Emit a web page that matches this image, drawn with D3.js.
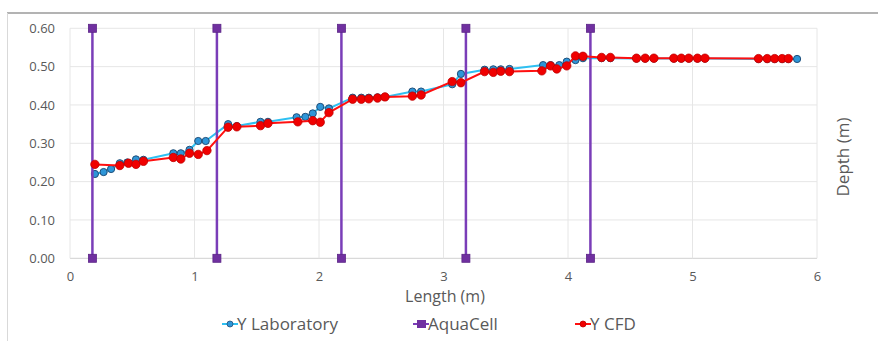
<!DOCTYPE html>
<html>
<head>
<meta charset="utf-8">
<script src="https://cdn.jsdelivr.net/npm/d3@7"></script>
<style>
  body { margin: 0; background: #fff; }
  text { font-family: "Open Sans", sans-serif; fill: #595959; }
</style>
</head>
<body>
<script>
// series values
let labX = [0.20, 0.27, 0.33, 0.40, 0.46, 0.53, 0.59, 0.83, 0.89, 0.96, 1.03, 1.09,
    1.27, 1.34, 1.53, 1.59, 1.82, 1.89, 1.95, 2.01, 2.08, 2.27, 2.34, 2.40, 2.47, 2.53,
    2.75, 2.82, 3.07, 3.14, 3.33, 3.40, 3.46, 3.53, 3.80, 3.86, 3.93, 3.99, 4.06, 4.12,
    4.27, 4.34, 4.55, 4.62, 4.69, 4.85, 4.91, 4.97, 5.04, 5.10, 5.53, 5.60, 5.66, 5.72, 5.77, 5.84]
let labY = [0.220, 0.225, 0.233, 0.248, 0.250, 0.258, 0.257, 0.274, 0.274, 0.283, 0.306, 0.306,
    0.350, 0.345, 0.356, 0.356, 0.368, 0.369, 0.378, 0.395, 0.391, 0.419, 0.419, 0.419, 0.420, 0.421,
    0.435, 0.435, 0.454, 0.481, 0.492, 0.493, 0.493, 0.494, 0.504, 0.504, 0.504, 0.513, 0.517, 0.522,
    0.522, 0.522, 0.521, 0.521, 0.521, 0.521, 0.521, 0.521, 0.521, 0.521, 0.520, 0.520, 0.520, 0.520, 0.520, 0.520]

let cfdX = [0.20, 0.40, 0.47, 0.53, 0.59, 0.83, 0.89, 0.96, 1.03, 1.10,
    1.27, 1.34, 1.53, 1.59, 1.83, 1.95, 2.01, 2.08, 2.27, 2.34, 2.40, 2.47, 2.53,
    2.75, 2.82, 3.07, 3.14, 3.33, 3.40, 3.46, 3.53, 3.79, 3.86, 3.91, 3.99, 4.06, 4.12,
    4.27, 4.34, 4.55, 4.62, 4.69, 4.85, 4.91, 4.97, 5.04, 5.10, 5.53, 5.60, 5.66, 5.72, 5.77]
let cfdY = [0.245, 0.242, 0.248, 0.245, 0.253, 0.263, 0.259, 0.274, 0.271, 0.281,
    0.342, 0.343, 0.346, 0.352, 0.356, 0.359, 0.355, 0.380, 0.415, 0.415, 0.416, 0.418, 0.421,
    0.423, 0.426, 0.461, 0.458, 0.487, 0.485, 0.488, 0.487, 0.489, 0.502, 0.494, 0.502, 0.528, 0.527,
    0.524, 0.524, 0.522, 0.522, 0.522, 0.522, 0.522, 0.522, 0.522, 0.522, 0.521, 0.521, 0.521, 0.521, 0.521]

let aquaX = [0.18, 1.18, 2.18, 3.18, 4.18]
let aquaY = [0, 0.6]

let xTicks = [0, 1, 2, 3, 4, 5, 6]
let yTicks = [0, 0.1, 0.2, 0.3, 0.4, 0.5, 0.6]

let w = 878
let h = 341

let svg = d3.select("body").append("svg")
    .attr("width", w)
    .attr("height", h)

// frame lines of the figure
svg.append("line").attr("x1", 7).attr("x2", w).attr("y1", 13).attr("y2", 13)
    .attr("stroke", "#9a9a9a").attr("stroke-width", 1.5)
svg.append("line").attr("x1", 7.5).attr("x2", 7.5).attr("y1", 13).attr("y2", h)
    .attr("stroke", "#d9d9d9").attr("stroke-width", 1)

let x = d3.scaleLinear().domain([0, 6]).range([70, 817])
let y = d3.scaleLinear().domain([0, 0.6]).range([258.3, 28.3])

// gridlines
let grid = svg.append("g")
grid.selectAll(".hg").data(yTicks).enter().append("line")
    .attr("x1", x(0)).attr("x2", x(6))
    .attr("y1", d => y(d)).attr("y2", d => y(d))
    .attr("stroke", d => d === 0 ? "#d0d0d0" : "#e6e6e6").attr("stroke-width", 1)
grid.selectAll(".vg").data(xTicks).enter().append("line")
    .attr("x1", d => x(d)).attr("x2", d => x(d))
    .attr("y1", y(0)).attr("y2", y(0.6))
    .attr("stroke", "#e6e6e6").attr("stroke-width", 1)

// axes (labels only)
let yAxis = svg.append("g").attr("transform", "translate(" + x(0) + ",0)")
    .call(d3.axisLeft(y).tickValues(yTicks).tickFormat(d3.format(".2f")).tickSize(0).tickPadding(15))
let xAxis = svg.append("g").attr("transform", "translate(0," + y(0) + ")")
    .call(d3.axisBottom(x).tickValues(xTicks).tickFormat(d3.format("d")).tickSize(0).tickPadding(13))
;[yAxis, xAxis].forEach(a => {
    a.select(".domain").remove()
    a.selectAll("text").style("font-size", "13px").attr("fill", "#595959")
        .style("font-family", "'Open Sans', sans-serif")
})

svg.append("text").attr("x", 445).attr("y", 302).attr("text-anchor", "middle")
    .style("font-size", "16px").text("Length (m)")
svg.append("text").attr("transform", "translate(849,157) rotate(-90)").attr("text-anchor", "middle")
    .style("font-size", "17px").text("Depth (m)")

let labData = labX.map((v, i) => [v, labY[i]])
let cfdData = cfdX.map((v, i) => [v, cfdY[i]])
let line = d3.line().x(d => x(d[0])).y(d => y(d[1]))

// Y Laboratory
svg.append("path").datum(labData).attr("d", line)
    .attr("fill", "none").attr("stroke", "#2ec0f2").attr("stroke-width", 2)
svg.append("g").selectAll("circle").data(labData).enter().append("circle")
    .attr("cx", d => x(d[0])).attr("cy", d => y(d[1])).attr("r", 3.6)
    .attr("fill", "#2e96d8").attr("stroke", "#1f4e79").attr("stroke-width", 1)

// AquaCell
let aqua = svg.append("g")
aquaX.forEach(ax => {
    aqua.append("line").attr("x1", x(ax)).attr("x2", x(ax))
        .attr("y1", y(aquaY[0])).attr("y2", y(aquaY[1]))
        .attr("stroke", "#7a3db8").attr("stroke-width", 2.5)
    aqua.selectAll(null).data(aquaY).enter().append("rect")
        .attr("x", x(ax) - 4).attr("y", d => y(d) - 4)
        .attr("width", 8).attr("height", 8)
        .attr("fill", "#7030a0").attr("stroke", "#5b2587").attr("stroke-width", 0.8)
})

// Y CFD
svg.append("path").datum(cfdData).attr("d", line)
    .attr("fill", "none").attr("stroke", "#ff1010").attr("stroke-width", 2)
svg.append("g").selectAll("circle").data(cfdData).enter().append("circle")
    .attr("cx", d => x(d[0])).attr("cy", d => y(d[1])).attr("r", 4.2)
    .attr("fill", "#f00000").attr("stroke", "#c00000").attr("stroke-width", 0.8)

// legend
let legendItems = [
    {name: "Y Laboratory", x0: 222, line: "#2ec0f2", mark: "circle", fill: "#2e96d8", stroke: "#1f4e79"},
    {name: "AquaCell", x0: 413, line: "#7a3db8", mark: "rect", fill: "#7030a0", stroke: "#5b2587"},
    {name: "Y CFD", x0: 575, line: "#ff1010", mark: "circle", fill: "#f00000", stroke: "#c00000"}
]
let ly = 324
let legend = svg.append("g")
legendItems.forEach(it => {
    let g = legend.append("g")
    g.append("line").attr("x1", it.x0).attr("x2", it.x0 + 16).attr("y1", ly).attr("y2", ly)
        .attr("stroke", it.line).attr("stroke-width", 2)
    if (it.mark === "circle") {
        g.append("circle").attr("cx", it.x0 + 8).attr("cy", ly).attr("r", 3)
            .attr("fill", it.fill).attr("stroke", it.stroke).attr("stroke-width", 0.8)
    } else {
        g.append("rect").attr("x", it.x0 + 4).attr("y", ly - 4).attr("width", 9).attr("height", 8)
            .attr("fill", it.fill)
    }
    g.append("text").attr("x", it.x0 + 15).attr("y", ly + 6)
        .style("font-size", "17px").text(it.name)
})
</script>
</body>
</html>
